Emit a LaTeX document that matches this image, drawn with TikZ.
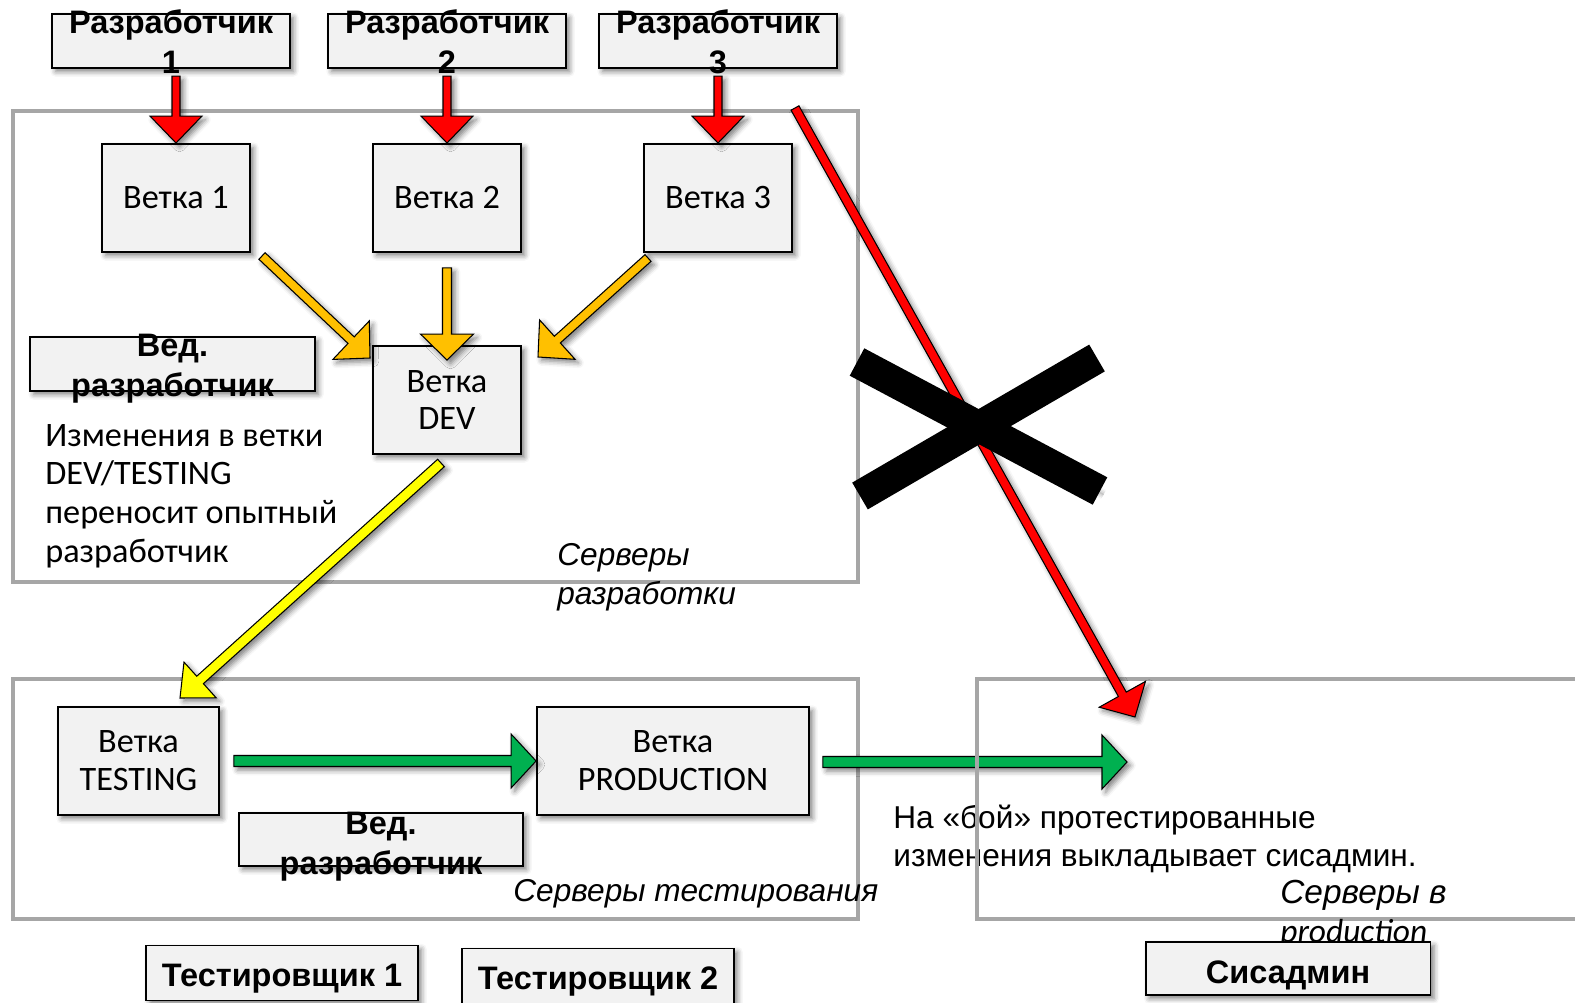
\documentclass[tikz,border=0pt]{standalone}
\usepackage{fontspec}
\setmainfont{Carlito}
\newfontfamily\nar{Liberation Sans}
\usetikzlibrary{calc,shadows.blur}
\definecolor{boxfill}{HTML}{F2F2F2}
\definecolor{srvgray}{HTML}{A6A6A6}
\definecolor{orng}{HTML}{FFC000}
\definecolor{grn}{HTML}{00B050}
\definecolor{yel}{HTML}{FFFF00}
\tikzset{
  shadowed/.style={blur shadow={shadow xshift=2pt,shadow yshift=-2pt,shadow blur radius=3pt,shadow opacity=50}},
  box/.style={draw=black, line width=1.1pt, fill=boxfill, shadowed, inner sep=0pt},
  srv/.style={draw=srvgray, line width=2.3pt, inner sep=0pt, anchor=north west},
  btxt/.style={font=\nar\bfseries\fontsize{18.5}{22.8}\selectfont, align=center, inner sep=0pt},
  ctxt/.style={font=\fontsize{19.5}{21.6}\selectfont, align=center, inner sep=0pt},
  ptxt/.style={font=\fontsize{19.5}{22}\selectfont, align=left, inner sep=0pt, anchor=north west},
  itxt/.style={font=\nar\itshape\fontsize{18}{22.2}\selectfont, align=left, inner sep=0pt, anchor=north west},
  ntxt/.style={font=\nar\fontsize{18}{21.6}\selectfont, align=left, inner sep=0pt, anchor=north west},
  arrowline/.style={draw=black, line width=0.6pt, shadowed},
}
\newcommand\blockarrow[7]{%
  \path ($(#3)!#7!(#2)$) coordinate (#1h);
  \draw[arrowline, fill=#4] ($(#2)!#5!90:(#3)$) -- ($(#1h)!#5!90:(#3)$) -- ($(#1h)!#6!90:(#3)$) -- (#3)
     -- ($(#1h)!#6!-90:(#3)$) -- ($(#1h)!#5!-90:(#3)$) -- ($(#2)!#5!-90:(#3)$) -- cycle;
}
\begin{document}
\begin{tikzpicture}[x=0.02cm,y=-0.02cm]
\useasboundingbox (0,0) rectangle (1575,1003);
\clip (0,0) rectangle (1575,1003);
% server areas
\node[srv, minimum width=16.9cm, minimum height=9.42cm] (devsrv) at (11,109) {};
\node[srv, minimum width=16.9cm, minimum height=4.8cm] (testsrv) at (11,677) {};
% developers
\node[box, minimum width=4.76cm, minimum height=1.08cm] (dev1) at (171,41) {};
\node[btxt] (dev1t) at (171,42) {Разработчик\\1};
\node[box, minimum width=4.76cm, minimum height=1.08cm] (dev2) at (447,41) {};
\node[btxt] (dev2t) at (447,42) {Разработчик\\2};
\node[box, minimum width=4.76cm, minimum height=1.08cm] (dev3) at (718,41) {};
\node[btxt] (dev3t) at (718,42) {Разработчик\\3};
% branches
\node[box, ctxt, minimum width=2.96cm, minimum height=2.16cm] (b1) at (176,198) {Ветка 1};
\node[box, ctxt, minimum width=2.96cm, minimum height=2.16cm] (b2) at (447,198) {Ветка 2};
\node[box, ctxt, minimum width=2.96cm, minimum height=2.16cm] (b3) at (718,198) {Ветка 3};
\node[box, ctxt, minimum width=2.96cm, minimum height=2.16cm] (bdev) at (447,400) {Ветка\\DEV};
% lead dev 1
\node[box, minimum width=5.7cm, minimum height=1.08cm] (lead1) at (172.5,364) {};
\node[btxt] (lead1t) at (172.5,369) {Вед.\\разработчик};
\node[ptxt] (note1) at (45,424) {Изменения в ветки\\DEV/TESTING\\переносит опытный\\разработчик};
\node[itxt] (devlbl) at (557,543) {Серверы\\разработки};
% red arrows dev->branch
\coordinate (r1s) at ($(b1.north)+(0,-67)$);
\coordinate (r2s) at ($(b2.north)+(0,-67)$);
\coordinate (r3s) at ($(b3.north)+(0,-67)$);
\blockarrow{ra}{r1s}{b1.north}{red}{0.08cm}{0.52cm}{0.54cm}
\blockarrow{rb}{r2s}{b2.north}{red}{0.08cm}{0.52cm}{0.54cm}
\blockarrow{rc}{r3s}{b3.north}{red}{0.08cm}{0.52cm}{0.54cm}
% orange arrows branch->DEV
\coordinate (o1s) at (262,256);
\coordinate (o1e) at (370,358);
\coordinate (o2s) at ($(b2.south)+(0,15)$);
\coordinate (o2e) at ($(bdev.north)+(0,15)$);
\coordinate (o3s) at (648,258);
\coordinate (o3e) at (538,357);
\blockarrow{oa}{o1s}{o1e}{orng}{0.09cm}{0.53cm}{0.52cm}
\blockarrow{ob}{o2s}{o2e}{orng}{0.09cm}{0.53cm}{0.52cm}
\blockarrow{oc}{o3s}{o3e}{orng}{0.09cm}{0.53cm}{0.52cm}
% testing area
\node[box, ctxt, minimum width=3.22cm, minimum height=2.16cm] (btest) at (138.5,761) {Ветка\\TESTING};
\node[box, ctxt, minimum width=5.44cm, minimum height=2.16cm] (bprod) at (673,761) {Ветка\\PRODUCTION};
\node[box, minimum width=5.68cm, minimum height=1.06cm] (lead2) at (381,839.5) {};
\node[btxt] (lead2t) at (381,847) {Вед.\\разработчик};
\node[itxt, anchor=west] (testlbl) at (513,894) {Серверы тестирования};
% yellow arrow DEV->TESTING
\coordinate (ys) at (441,463);
\coordinate (ye) at (180,698);
\blockarrow{ya}{ys}{ye}{yel}{0.10cm}{0.48cm}{0.54cm}
% green arrows
\coordinate (g1s) at ($(btest.east)+(14,0)$);
\blockarrow{ga}{g1s}{bprod.west}{grn}{0.11cm}{0.54cm}{0.5cm}
\coordinate (g2s) at ($(bprod.east)+(13,1)$);
\coordinate (g2e) at (1127,762);
\blockarrow{gb}{g2s}{g2e}{grn}{0.11cm}{0.54cm}{0.5cm}
\node[ntxt] (note2) at (893,805) {На «бой» протестированные\\изменения выкладывает сисадмин.};
% production area
\node[srv, minimum width=12.7cm, minimum height=4.8cm] (prodsrv) at (975,677) {};
\node[inner sep=0pt, anchor=north west, align=left, font=\fontsize{19}{22.2}\selectfont] (prodlbl) at (1280,880) {{\nar\itshape Серверы в}\\{\itshape production}};
% people
\node[box, minimum width=5.44cm, minimum height=1.1cm] (test1) at (282,973) {};
\node[btxt] (test1t) at (282,979) {Тестировщик 1};
\node[box, minimum width=5.44cm, minimum height=1.1cm] (test2) at (598,976) {};
\node[btxt] (test2t) at (598,982) {Тестировщик 2};
\node[box, minimum width=5.7cm, minimum height=1.06cm] (sysadm) at (1288,968.5) {};
\node[btxt] (sysadmt) at (1288,975) {Сисадмин};
% forbidden direct path
\coordinate (rls) at (795,108);
\coordinate (rle) at (1135,717);
\blockarrow{rl}{rls}{rle}{red}{0.09cm}{0.53cm}{0.52cm}
\draw[line width=0.62cm, black, blur shadow={shadow xshift=2pt,shadow yshift=-2pt,shadow blur radius=3pt,shadow opacity=45}] (857,362) -- (1100,491);
\draw[line width=0.62cm, black] (860,496) -- (1097,358);
\end{tikzpicture}
\end{document}
